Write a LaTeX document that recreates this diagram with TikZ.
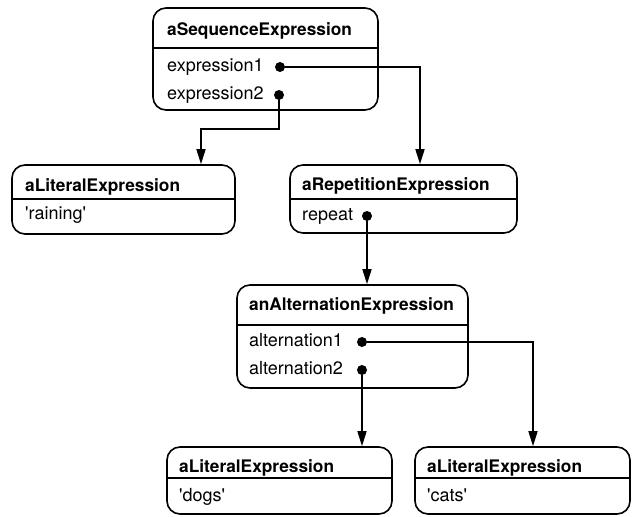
\documentclass[tikz,border=0pt]{standalone}
\usepackage{fontspec}
\setmainfont{TeX Gyre Heros}
\usetikzlibrary{arrows.meta}

\newcommand{\diagfont}{\fontsize{17.3}{20}\selectfont}
\newcommand{\fieldfont}{\fontsize{18}{21}\selectfont}

\tikzset{
	object/.style={draw, line width=1.6pt, rounded corners=13pt, inner sep=0pt},
	objname/.style={anchor=base west, inner sep=0pt, font=\diagfont\bfseries},
	field/.style={anchor=base west, inner sep=0pt, font=\fieldfont},
	divider/.style={line width=1.3pt},
	refdot/.style={circle, fill, inner sep=0pt, minimum size=10pt},
	link/.style={line width=1.6pt, -{Triangle[length=15pt, width=9pt]}},
}

\begin{document}
\begin{tikzpicture}[x=1pt, y=-1pt]
	\useasboundingbox (0,0) rectangle (633,517);

	% Objects
	\node[object, minimum width=225pt, minimum height=102pt] (seq)  at (265.5,59)  {};
	\node[object, minimum width=223pt, minimum height=69pt]  (lit1) at (123.5,199.5) {};
	\node[object, minimum width=227pt, minimum height=68pt]  (rep)  at (403.5,199) {};
	\node[object, minimum width=231pt, minimum height=103pt] (alt)  at (352.5,336.5) {};
	\node[object, minimum width=225pt, minimum height=67pt]  (dogs) at (279.5,480.5) {};
	\node[object, minimum width=215pt, minimum height=67pt]  (cats) at (522.5,480.5) {};

	% Dividers
	\draw[divider] (seq.west |- 0,48)   -- (seq.east |- 0,48);
	\draw[divider] (lit1.west |- 0,199) -- (lit1.east |- 0,199);
	\draw[divider] (rep.west |- 0,199)  -- (rep.east |- 0,199);
	\draw[divider] (alt.west |- 0,325)  -- (alt.east |- 0,325);
	\draw[divider] (dogs.west |- 0,478) -- (dogs.east |- 0,478);
	\draw[divider] (cats.west |- 0,478) -- (cats.east |- 0,478);

	% Names
	\node[objname] (seqname)  at (167,35)  {aSequenceExpression};
	\node[objname] (lit1name) at (25,191)  {aLiteralExpression};
	\node[objname] (repname)  at (302,190) {aRepetitionExpression};
	\node[objname] (altname)  at (249,310) {anAlternationExpression};
	\node[objname] (dogsname) at (179,472) {aLiteralExpression};
	\node[objname] (catsname) at (427,472) {aLiteralExpression};

	% Fields
	\node[field] (seqexpr1) at (167,71)  {expression1};
	\node[field] (seqexpr2) at (167,99)  {expression2};
	\node[field] (lit1val)  at (25,219)  {\textquotesingle raining\textquotesingle};
	\node[field] (repval)   at (302,220) {repeat};
	\node[field] (altalt1)  at (249,346) {alternation1};
	\node[field] (altalt2)  at (249,374) {alternation2};
	\node[field] (dogsval)  at (179,501) {\textquotesingle dogs\textquotesingle};
	\node[field] (catsval)  at (427,501) {\textquotesingle cats\textquotesingle};

	% References
	\node[refdot] (seqdot1) at (280,67)  {};
	\node[refdot] (seqdot2) at (279,95)  {};
	\node[refdot] (repdot)  at (367,216) {};
	\node[refdot] (altdot1) at (362,342) {};
	\node[refdot] (altdot2) at (362,370) {};

	% Connections
	\draw[link] (seqdot1) -| (rep.north -| 420,0);
	\draw[link] (seqdot2) -- (seqdot2 |- 0,129) -| (lit1.north -| 201,0);
	\draw[link] (repdot) -- (alt.north -| repdot);
	\draw[link] (altdot1) -| (cats.north -| 533,0);
	\draw[link] (altdot2) -- (dogs.north -| altdot2);
\end{tikzpicture}
\end{document}
